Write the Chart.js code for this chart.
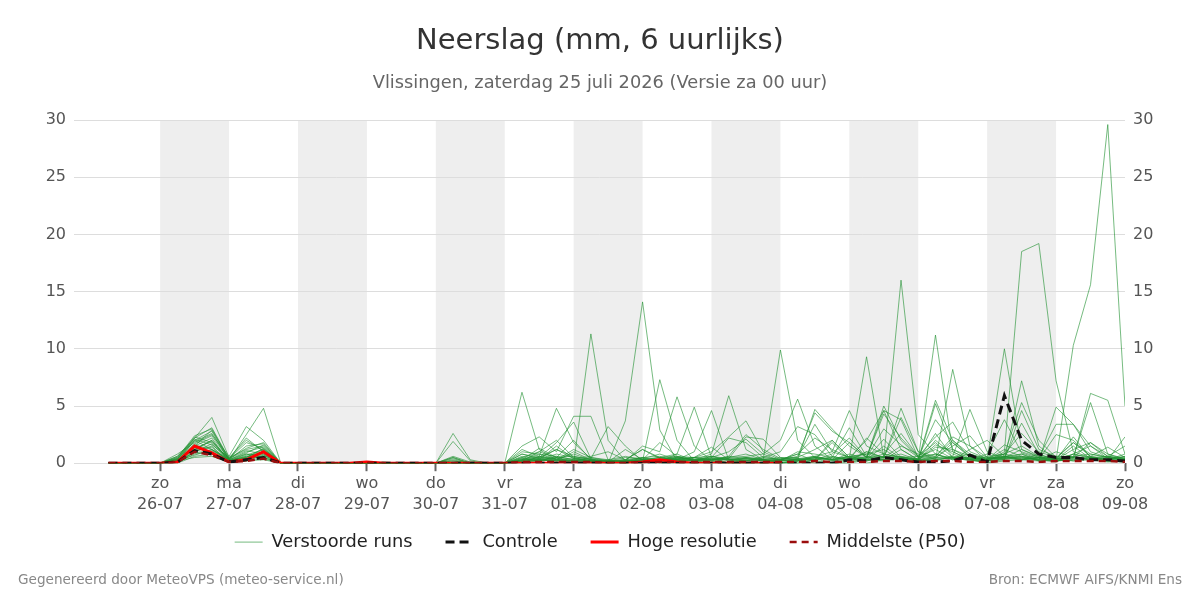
<!DOCTYPE html>
<html>
<head>
<meta charset="utf-8">
<script src="https://cdn.jsdelivr.net/npm/chart.js@4/dist/chart.umd.min.js"></script>
<style>
  html, body { margin: 0; padding: 0; background: #fff; }
  #wrap { width: 1200px; height: 600px; }
</style>
</head>
<body>
<div id="wrap"><canvas id="myChart" width="1200" height="600"></canvas></div>
<script>
// tijdstappen in uren vanaf za 25-07 00 uur (6 uurlijks)
var hours = [6, 12, 18, 24, 30, 36, 42, 48, 54, 60,
  66, 72, 78, 84, 90, 96, 102, 108, 114, 120,
  126, 132, 138, 144, 150, 156, 162, 168, 174, 180,
  186, 192, 198, 204, 210, 216, 222, 228, 234, 240,
  246, 252, 258, 264, 270, 276, 282, 288, 294, 300,
  306, 312, 318, 324, 330, 336, 342, 348, 354, 360];

// as labels (dag + datum)
var dayTicks = [24, 48, 72, 96, 120, 144, 168, 192, 216, 240, 264, 288, 312, 336, 360];
var dayNames = ['zo', 'ma', 'di', 'wo', 'do', 'vr', 'za', 'zo', 'ma', 'di', 'wo', 'do', 'vr', 'za', 'zo'];
var dayDates = ['26-07', '27-07', '28-07', '29-07', '30-07', '31-07', '01-08', '02-08', '03-08', '04-08', '05-08', '06-08', '07-08', '08-08', '09-08'];
// grijze banden (start van de dag in uren)
var bandDays = [24, 72, 120, 168, 216, 264, 312];
var yTicks = [0, 5, 10, 15, 20, 25, 30];

// controle run
var controle = [0, 0, 0, 0, 0.1, 1.1, 0.8, 0.1, 0.3, 0.5,
  0, 0, 0, 0, 0, 0, 0, 0, 0, 0,
  0, 0, 0, 0, 0, 0, 0, 0, 0, 0,
  0, 0, 0, 0, 0, 0, 0, 0, 0, 0,
  0, 0, 0, 0.3, 0.2, 0.5, 0.3, 0.1, 0.1, 0.2,
  0.7, 0.1, 5.9, 2.0, 0.8, 0.5, 0.5, 0.3, 0.3, 0.2];

// hoge resolutie (tot 10 dagen)
var hires = [0, 0, 0, 0, 0.1, 1.5, 0.9, 0.1, 0.3, 1.0,
  0, 0, 0, 0, 0, 0.1, 0, 0, 0, 0,
  0, 0, 0, 0, 0, 0, 0, 0, 0, 0,
  0, 0.1, 0.3, 0.1, 0, 0, 0, 0, 0, 0];

// mediaan
var p50 = [0, 0, 0, 0, 0.1, 1.0, 0.7, 0.1, 0.2, 0.4,
  0, 0, 0, 0, 0, 0, 0, 0, 0, 0,
  0, 0, 0, 0, 0.1, 0.1, 0.1, 0.1, 0.1, 0,
  0, 0.1, 0.1, 0.1, 0.1, 0.1, 0.1, 0.1, 0.1, 0.1,
  0.1, 0.2, 0.1, 0.1, 0.1, 0.2, 0.2, 0.1, 0.2, 0.2,
  0.1, 0.1, 0.2, 0.2, 0.1, 0.2, 0.2, 0.2, 0.2, 0.1];

// verstoorde runs
var m01 = [0, 0, 0, 0, 0.3, 2.2, 4.0, 0.5, 1.2, 1.5,
  0, 0, 0, 0, 0, 0, 0, 0, 0, 0,
  0, 0, 0, 0, 6.2, 1.2, 0.3, 0, 0, 0,
  0.2, 0.5, 0, 0, 0, 0.4, 0, 0, 0, 0.3,
  0.8, 0.2, 0, 0, 0.5, 4.6, 1.2, 0.3, 0.6, 2.0,
  0.8, 0.3, 1.2, 0.6, 0.2, 0.3, 1.5, 0.4, 0.2, 0.6];
var m02 = [0, 0, 0, 0, 0.5, 2.4, 3.0, 0.3, 2.5, 4.8,
  0, 0, 0, 0, 0, 0, 0, 0, 0, 0,
  2.6, 0.3, 0, 0, 0.5, 1.0, 0.5, 0, 11.3, 2.0,
  0.2, 0, 0, 0.3, 0, 0, 0, 0.5, 0.2, 0,
  0, 0, 0, 0.2, 1.0, 0.5, 16.0, 2.5, 0.8, 0.3,
  0.5, 0.2, 0.3, 0.6, 0.3, 0.1, 0.8, 0.4, 0.5, 0.3];
var m03 = [0, 0, 0, 0, 0.8, 1.8, 2.5, 0.6, 3.2, 2.0,
  0, 0, 0, 0, 0, 0, 0.1, 0, 0, 0,
  1.9, 0.2, 0, 0, 1.5, 2.3, 1.0, 4.1, 4.1, 0.3,
  0, 0.3, 0, 0, 0, 0.2, 0, 0, 0, 0,
  0, 0.3, 2.0, 0.5, 0, 0.3, 0.4, 0.2, 2.0, 0.8,
  0.3, 0.2, 0.8, 5.3, 2.0, 0.5, 0.2, 0.3, 0.1, 0.2];
var m04 = [0, 0, 0, 0, 0.2, 2.0, 2.8, 0.2, 0.5, 1.2,
  0, 0, 0, 0, 0, 0, 0, 0, 0, 0,
  0.5, 0, 0, 0, 0, 0.6, 4.8, 1.8, 0.4, 0,
  3.7, 14.1, 2.9, 0.2, 0, 0, 0, 0, 0, 0,
  0.2, 0.4, 0, 0, 0.3, 1.5, 0.4, 0.3, 11.2, 1.0,
  0.3, 0, 0.5, 0.3, 0.8, 0.2, 0.5, 0.3, 0.2, 0.1];
var m05 = [0, 0, 0, 0, 0, 1.5, 2.2, 0.1, 0.3, 0.8,
  0, 0, 0, 0, 0, 0, 0, 0, 0, 0,
  0, 0, 0, 0, 0.8, 0.5, 1.8, 3.6, 0.4, 3.2,
  1.5, 0.2, 7.3, 2.0, 0.2, 0, 0, 0.3, 0, 0,
  0.4, 0.2, 0.6, 0.3, 0.2, 0.5, 0.8, 0.3, 5.5, 2.0,
  0.6, 0.2, 0.3, 7.2, 1.5, 0.3, 0.2, 0.5, 0.2, 0.1];
var m06 = [0, 0, 0, 0, 0.4, 2.3, 1.8, 0.4, 1.8, 1.3,
  0, 0, 0, 0, 0, 0, 0, 0, 0, 0,
  0, 0, 0, 0, 0.2, 1.0, 2.0, 0.5, 0.2, 0.1,
  0.2, 1.5, 1.0, 5.8, 1.5, 0.2, 0, 0.2, 0, 0,
  0.2, 0.5, 0.3, 0.6, 0.3, 0.2, 0.4, 0.2, 0.3, 8.2,
  1.5, 0.2, 0.4, 0.8, 0.3, 0.2, 0.4, 6.1, 5.5, 0.8];
var m07 = [0, 0, 0, 0, 0.2, 1.2, 2.0, 0.2, 0.6, 1.0,
  0, 0, 0, 0, 0, 0, 0, 0, 0, 0,
  0.3, 0, 0, 0, 0.3, 0.3, 0.5, 2.0, 0.3, 0.1,
  0.2, 0.3, 0.5, 0.8, 4.9, 0.5, 0, 0, 0.3, 0,
  0, 0.3, 0.8, 2.2, 0.5, 0.3, 1.2, 0.3, 0.5, 0.6,
  4.7, 1.0, 0.4, 0.3, 0.2, 4.9, 3.4, 1.5, 0.6, 0.3];
var m08 = [0, 0, 0, 0, 0, 1.0, 1.5, 0.1, 0.2, 0.7,
  0, 0, 0, 0, 0, 0, 0, 0, 0, 0,
  0, 0, 0, 0, 0, 0.2, 0.3, 1.2, 0.5, 0.2,
  0, 0.5, 0.2, 0.3, 1.0, 4.6, 0.3, 0, 0, 0.2,
  0.3, 0, 0.2, 0.4, 9.3, 0.5, 0.3, 0.2, 0.3, 0.5,
  0.2, 0.3, 10.0, 1.2, 0.5, 0.2, 0.3, 0.5, 0.3, 0.2];
var m09 = [0, 0, 0, 0, 0.3, 1.6, 1.2, 0.3, 1.0, 1.4,
  0, 0, 0, 0, 0, 0, 0, 0, 0, 0,
  0.4, 0, 0, 0, 1.0, 0.8, 0.3, 0.2, 0.5, 0.3,
  0.1, 0.2, 0.3, 0.5, 0.3, 0.8, 5.9, 1.2, 0.3, 0,
  0.2, 0.6, 0.3, 0.2, 0.5, 5.0, 2.0, 0.5, 1.2, 0.4,
  0.3, 0.2, 1.0, 18.5, 19.2, 7.2, 1.0, 0.5, 0.3, 0.2];
var m10 = [0, 0, 0, 0, 0.1, 0.8, 1.0, 0.2, 0.4, 0.6,
  0, 0, 0, 0, 0, 0, 0, 0, 0, 0,
  0, 0, 0, 0, 0, 0.3, 0.8, 0.5, 0.2, 0,
  0, 0.1, 0.3, 0.2, 0.5, 1.0, 2.3, 3.7, 1.0, 0.3,
  0.2, 0.3, 0.5, 0.4, 0.2, 0.6, 0.3, 0.1, 0.5, 0.4,
  0.3, 0, 0.2, 0.3, 0.5, 0.3, 10.3, 15.6, 29.6, 5.0];
var m11 = [0, 0, 0, 0, 0.6, 2.1, 1.6, 0.5, 2.0, 1.1,
  0, 0, 0, 0, 0, 0, 0, 0, 0, 0,
  0.2, 0, 0, 0, 0.2, 0.5, 0.4, 0.8, 0.3, 0.2,
  0.2, 0.4, 0.3, 0.6, 0.5, 0.3, 0.5, 0.8, 0.3, 9.9,
  2.0, 0.5, 0.2, 0.6, 0.4, 0.8, 0.5, 0.4, 0.2, 0.6,
  0.4, 0.2, 0.5, 0.4, 0.3, 1.0, 0.5, 5.3, 0.8, 0.3];
var m12 = [0, 0, 0, 0, 0.2, 1.4, 0.9, 0.2, 0.8, 0.5,
  0, 0, 0, 0, 0, 0, 0, 0, 0, 0,
  0, 0, 0, 0, 0.4, 0.2, 0.6, 0.3, 0.2, 0.1,
  0.3, 0.2, 0.5, 0.2, 0.3, 0.3, 0.5, 0.6, 0.8, 2.0,
  5.6, 1.5, 0.3, 0.5, 0.3, 0.4, 4.8, 1.0, 0.3, 0.5,
  0.5, 0.3, 0.6, 0.8, 0.2, 0.3, 2.3, 0.5, 0.3, 2.3];
var m13 = [0, 0, 0, 0, 0, 0.6, 0.8, 0.1, 0.3, 0.4,
  0, 0, 0, 0, 0, 0, 0, 0, 0, 0,
  0, 0, 0, 0, 0.1, 0.3, 0.2, 0.1, 0, 0,
  0, 0, 0.2, 0.3, 0.2, 0.5, 1.0, 2.1, 0.8, 0.2,
  0.3, 4.7, 3.0, 1.5, 0.5, 0.3, 0.6, 0.2, 5.2, 1.2,
  0.4, 0.3, 0.8, 0.5, 0.3, 0.4, 0.6, 0.8, 0.5, 0.3];
var m14 = [0, 0, 0, 0, 0.4, 1.9, 2.6, 0.3, 1.5, 1.7,
  0, 0, 0, 0, 0, 0, 0, 0, 0, 0,
  0, 0, 0, 0, 0.6, 0.4, 0.2, 0.3, 0.2, 0.1,
  0.1, 0.3, 0.2, 0.5, 0.3, 0.4, 0.3, 0.5, 0.4, 0.3,
  0.6, 4.4, 2.8, 1.8, 0.5, 4.3, 2.2, 0.6, 1.8, 0.5,
  0.3, 0.6, 0.8, 1.5, 0.6, 0.4, 0.5, 1.8, 0.8, 0.4];
var m15 = [0, 0, 0, 0, 0.1, 1.1, 1.4, 0.1, 0.5, 0.9,
  0, 0, 0, 0, 0, 0, 0, 0, 0, 0,
  0.2, 0, 0, 0, 0.3, 0.6, 0.4, 0.2, 0.1, 0,
  0, 0.1, 0.4, 0.3, 0.2, 0.6, 0.4, 0.3, 0.2, 0.4,
  0.5, 3.4, 1.0, 4.6, 1.5, 0.8, 0.5, 0.6, 2.3, 3.6,
  1.0, 0.4, 0.6, 0.3, 0.5, 0.3, 0.8, 0.5, 0.6, 1.5];
var m16 = [0, 0, 0, 0, 0.5, 2.0, 1.2, 0.4, 1.1, 0.8,
  0, 0, 0, 0, 0, 0, 0, 0, 0, 0,
  0, 0, 0, 0, 0.2, 0.3, 0.2, 0.2, 0.1, 0.2,
  0.3, 0.5, 0.6, 0.2, 0.3, 0.2, 0.6, 0.4, 0.3, 0.2,
  1.0, 0.8, 0.5, 3.1, 0.6, 0.5, 1.5, 0.8, 0.5, 1.5,
  2.4, 0.5, 0.3, 4.6, 1.2, 0.6, 0.5, 0.3, 0.6, 0.4];
var m17 = [0, 0, 0, 0, 0.3, 1.3, 1.9, 0.2, 0.7, 1.2,
  0, 0, 0, 0, 0, 0, 0, 0, 0, 0,
  0.6, 0.1, 0, 0, 0.2, 0.2, 0.5, 0.6, 0.3, 0.1,
  0.2, 0.1, 0.3, 0.5, 0.4, 0.2, 0.3, 0.2, 0.3, 0.5,
  0.4, 0.6, 1.0, 0.5, 2.0, 4.6, 3.8, 0.5, 3.8, 1.8,
  0.6, 0.3, 0.5, 3.5, 0.8, 0.3, 0.4, 0.6, 0.3, 0.5];
var m18 = [0, 0, 0, 0, 0.2, 0.9, 1.1, 0.3, 0.5, 1.3,
  0, 0, 0, 0, 0, 0, 0, 0, 0, 0,
  0, 0, 0, 0, 0.1, 0.4, 0.3, 0.2, 0.2, 0,
  0.1, 0.2, 0.1, 0.4, 0.2, 0.3, 0.4, 0.2, 0.6, 0.3,
  0.3, 0.4, 0.3, 0.6, 0.8, 0.5, 4.0, 1.0, 0.6, 2.3,
  1.5, 0.5, 0.4, 0.6, 0.5, 3.4, 3.4, 1.0, 0.5, 0.3];
var m19 = [0, 0, 0, 0, 0.6, 2.2, 3.1, 0.4, 2.2, 1.0,
  0, 0, 0, 0, 0, 0, 0, 0, 0, 0,
  0, 0, 0, 0, 0.5, 0.3, 1.5, 0.4, 0.2, 0.2,
  0.1, 0.3, 0.2, 0.4, 0.5, 0.6, 0.3, 0.4, 0.2, 0.3,
  0.3, 0.5, 0.4, 0.3, 0.6, 0.3, 0.5, 0.3, 0.4, 0.5,
  0.4, 0.3, 0.6, 0.5, 0.4, 0.2, 0.6, 0.3, 0.4, 0.6];
var m20 = [0, 0, 0, 0, 0.2, 0.5, 0.6, 0.1, 0.2, 0.3,
  0, 0, 0, 0, 0, 0, 0, 0, 0, 0,
  0, 0, 0, 0, 1.2, 0.6, 0.2, 1.0, 0.3, 0.1,
  0.2, 0.3, 1.8, 0.6, 0.2, 0.5, 2.2, 1.8, 0.5, 0.3,
  0.8, 2.2, 1.2, 0.5, 0.3, 0.6, 0.4, 0.3, 2.6, 0.5,
  0.8, 0.4, 0.6, 0.3, 0.5, 0.2, 0.3, 0.4, 0.2, 0.3];
var m21 = [0, 0, 0, 0, 0.4, 1.7, 2.4, 0.3, 0.9, 1.6,
  0, 0, 0, 0, 0, 0, 0, 0, 0, 0,
  0.5, 0, 0, 0, 0.3, 0.8, 0.6, 0.3, 0.2, 0.3,
  0.6, 0.3, 0.2, 0.8, 0.2, 0.3, 0.6, 2.5, 1.2, 0.4,
  0.5, 1.2, 2.0, 0.5, 0.8, 1.2, 0.3, 0.4, 0.8, 0.3,
  1.2, 2.0, 0.6, 0.4, 0.3, 2.5, 2.0, 0.6, 0.3, 0.8];
var m22 = [0, 0, 0, 0, 0.1, 1.0, 1.7, 0.2, 0.4, 0.9,
  0, 0, 0, 0, 0, 0, 0, 0, 0, 0,
  0, 0, 0, 0, 0.3, 1.3, 0.5, 0.2, 0.4, 0.2,
  0.3, 1.2, 0.4, 0.3, 0.5, 1.4, 0.3, 0.2, 0.5, 1.0,
  3.2, 2.5, 0.6, 0.3, 1.0, 0.5, 0.6, 0.3, 1.6, 1.0,
  0.3, 0.5, 0.8, 2.6, 1.0, 0.5, 1.8, 0.8, 0.5, 0.2];
var m23 = [0, 0, 0, 0, 0.3, 1.5, 2.9, 0.4, 1.3, 1.8,
  0, 0, 0, 0, 0, 0, 0, 0, 0, 0,
  0, 0, 0, 0, 0.8, 0.4, 1.2, 0.6, 0.3, 0.2,
  0.5, 0.4, 0.8, 0.3, 0.5, 0.3, 0.4, 2.3, 2.1, 0.5,
  0.3, 0.6, 0.3, 1.8, 0.5, 3.0, 1.6, 0.5, 0.8, 0.4,
  0.3, 0.8, 3.8, 0.9, 0.4, 0.2, 0.8, 1.5, 0.4, 0.3];
var m24 = [0, 0, 0, 0, 0.2, 0.7, 1.2, 0.2, 0.6, 0.5,
  0, 0, 0, 0, 0, 0, 0, 0, 0, 0,
  0, 0, 0, 0, 0.2, 0.5, 1.2, 0.4, 0.2, 0.1,
  1.2, 0.3, 0.5, 0.4, 0.3, 0.6, 0.2, 0.4, 0.3, 0.2,
  0.4, 0.3, 1.8, 0.3, 2.2, 0.8, 2.6, 0.6, 0.4, 1.8,
  0.5, 0.3, 1.6, 1.0, 0.5, 0.4, 1.8, 0.6, 1.4, 0.5];
var m25 = [0, 0, 0, 0, 0.3, 1.2, 2.0, 0.3, 0.8, 0.7,
  0, 0, 0, 0, 0, 0, 0, 0, 0, 0,
  0, 0, 0, 0, 0.4, 0.2, 0.3, 0.4, 0.6, 1.0,
  0.3, 1.2, 0.5, 0.6, 0.2, 0.4, 0.3, 0.5, 0.3, 0.2,
  0.2, 0.5, 0.3, 0.8, 0.4, 2.1, 0.5, 0.3, 1.4, 1.2,
  0.6, 0.4, 0.5, 1.2, 0.6, 0.3, 1.2, 1.8, 0.6, 0.4];

var members = [m01, m02, m03, m04, m05, m06, m07, m08, m09, m10, m11, m12, m13,
  m14, m15, m16, m17, m18, m19, m20, m21, m22, m23, m24, m25];

var fontFam = '"DejaVu Sans", sans-serif';

// datasets opbouwen
var datasets = [];
datasets.push({
    label: 'Controle',
    data: controle,
    borderColor: '#111',
    backgroundColor: '#111',
    borderWidth: 3,
    borderDash: [9, 5],
    order: 1
});
datasets.push({
    label: 'Hoge resolutie',
    data: hires,
    borderColor: '#ff0000',
    backgroundColor: '#ff0000',
    borderWidth: 3,
    order: 2
});
datasets.push({
    label: 'Middelste (P50)',
    data: p50,
    borderColor: '#9b0d0d',
    backgroundColor: '#9b0d0d',
    borderWidth: 2.5,
    borderDash: [7, 5],
    order: 0
});
for (var i = 0; i < members.length; i++) {
    datasets.push({
        label: i == 0 ? 'Verstoorde runs' : 'run ' + (i + 1),
        data: members[i],
        borderColor: 'rgba(34, 145, 50, 0.62)',
        backgroundColor: 'rgba(34, 145, 50, 0.62)',
        borderWidth: 1,
        order: 5
    });
}

// grijze banden, titel en voettekst
var decor = {
    id: 'decor',
    beforeDraw: function (chart) {
        var ctx = chart.ctx;
        var xs = chart.scales.x;
        var area = chart.chartArea;
        ctx.save();
        ctx.fillStyle = '#eeeeee';
        bandDays.forEach(function (d) {
            var x1 = xs.getPixelForValue(d);
            var x2 = xs.getPixelForValue(d + 24);
            ctx.fillRect(x1, area.top, x2 - x1, area.bottom - area.top);
        });
        ctx.restore();
    },
    afterDraw: function (chart) {
        var ctx = chart.ctx;
        ctx.save();
        ctx.textAlign = 'center';
        ctx.textBaseline = 'middle';
        ctx.fillStyle = '#333';
        ctx.font = '29px ' + fontFam;
        ctx.fillText('Neerslag (mm, 6 uurlijks)', 600, 41);
        ctx.fillStyle = '#666';
        ctx.font = '17.8px ' + fontFam;
        ctx.fillText('Vlissingen, zaterdag 25 juli 2026 (Versie za 00 uur)', 600, 83);
        ctx.fillStyle = '#888';
        ctx.font = '13.6px ' + fontFam;
        ctx.textAlign = 'left';
        ctx.fillText('Gegenereerd door MeteoVPS (meteo-service.nl)', 18, 580);
        ctx.textAlign = 'right';
        ctx.fillText('Bron: ECMWF AIFS/KNMI Ens', 1182, 580);
        ctx.restore();
    }
};

var legendOrder = ['Verstoorde runs', 'Controle', 'Hoge resolutie', 'Middelste (P50)'];
var legendGap = '\u00a0\u00a0\u00a0';

var ctx = document.getElementById('myChart').getContext('2d');
var chart = new Chart(ctx, {
    type: 'line',
    data: {
        labels: hours,
        datasets: datasets
    },
    options: {
        responsive: false,
        animation: false,
        layout: { padding: { top: 120, left: 0, right: 0, bottom: 39 } },
        elements: {
            point: { radius: 0 },
            line: { tension: 0, fill: false }
        },
        scales: {
            x: {
                type: 'linear',
                min: -6,
                max: 360,
                afterBuildTicks: function (scale) {
                    scale.ticks = dayTicks.map(function (v) { return { value: v }; });
                },
                afterFit: function (scale) { scale.height = 54; },
                border: { display: false },
                grid: {
                    drawOnChartArea: false,
                    drawTicks: true,
                    tickLength: 8,
                    tickWidth: 2,
                    color: '#666'
                },
                ticks: {
                    autoSkip: false,
                    maxRotation: 0,
                    padding: 2,
                    color: '#555',
                    font: { family: fontFam, size: 16, lineHeight: 1.3 },
                    callback: function (value) {
                        var k = dayTicks.indexOf(value);
                        if (k < 0) return '';
                        return [dayNames[k], dayDates[k]];
                    }
                }
            },
            y: {
                position: 'left',
                min: 0,
                max: 30,
                afterBuildTicks: function (scale) {
                    scale.ticks = yTicks.map(function (v) { return { value: v }; });
                },
                afterFit: function (scale) { scale.width = 74; },
                border: { display: false },
                grid: { color: '#dddddd', drawTicks: false },
                ticks: {
                    padding: 8,
                    color: '#555',
                    font: { family: fontFam, size: 16 }
                }
            },
            y2: {
                position: 'right',
                min: 0,
                max: 30,
                afterBuildTicks: function (scale) {
                    scale.ticks = yTicks.map(function (v) { return { value: v }; });
                },
                afterFit: function (scale) { scale.width = 75; },
                border: { display: false },
                grid: { drawOnChartArea: false, drawTicks: false },
                ticks: {
                    padding: 8,
                    color: '#555',
                    font: { family: fontFam, size: 16 }
                }
            }
        },
        plugins: {
            title: { display: false },
            tooltip: { enabled: false },
            legend: {
                display: true,
                position: 'bottom',
                labels: {
                    usePointStyle: true,
                    pointStyle: 'line',
                    pointStyleWidth: 28,
                    padding: 16,
                    color: '#222',
                    font: { family: fontFam, size: 17.8 },
                    generateLabels: function (chart) {
                        var items = Chart.defaults.plugins.legend.labels.generateLabels(chart);
                        items.forEach(function (it) {
                            var ds = chart.data.datasets[it.datasetIndex];
                            it.lineDash = ds.borderDash || [];
                            it.lineWidth = ds.borderWidth;
                            it.strokeStyle = ds.borderColor;
                            // wat extra ruimte tussen de items
                            if (it.text != 'Middelste (P50)') it.text = it.text + legendGap;
                        });
                        return items;
                    },
                    filter: function (item) {
                        return legendOrder.indexOf(item.text.trim()) >= 0;
                    },
                    sort: function (a, b) {
                        return legendOrder.indexOf(a.text.trim()) - legendOrder.indexOf(b.text.trim());
                    }
                }
            }
        }
    },
    plugins: [decor]
});
</script>
</body>
</html>
